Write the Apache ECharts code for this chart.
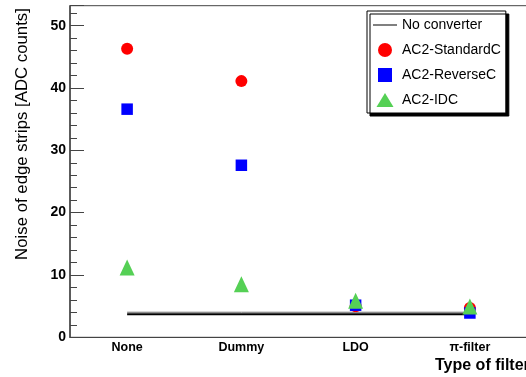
<!DOCTYPE html>
<html>
<head>
<meta charset="utf-8">
<script src="https://cdn.jsdelivr.net/npm/echarts@6/dist/echarts.min.js"></script>
<style>
html,body{margin:0;padding:0;background:#fff;}
#c{width:526px;height:377px;}
</style>
</head>
<body>
<div id="c"></div>
<script>
const categories = ['None', 'Dummy', 'LDO', '\u03c0-filter'];
const standardC = [46.3, 41.1, 5.0, 4.7];
const reverseC = [36.6, 27.6, 5.15, 3.9];
const idc = [11.2, 8.5, 5.85, 4.95];
const noConverter = [3.7, 3.7, 3.7, 3.7];
const noConverterUpper = [4.02, 4.02, 4.02, 4.02];
const yMin = 0, yMax = 53.2;

const FONT = 'Liberation Sans, Arial, sans-serif';
const chart = echarts.init(document.getElementById('c'), null, {renderer: 'canvas'});
const axisCol = '#444';

chart.setOption({
  animation: false,
  backgroundColor: '#fff',
  textStyle: {fontFamily: FONT},
  grid: {left: 70, top: 5.7, width: 457, bottom: 39.7, containLabel: false, outerBoundsMode: 'none',
    show: true, borderColor: axisCol, borderWidth: 1, backgroundColor: 'transparent'},
  legend: {
    orient: 'vertical',
    left: 367, top: 11,
    padding: [7, 5, 6, 6],
    itemGap: 11,
    itemWidth: 24, itemHeight: 14,
    backgroundColor: '#fff',
    borderColor: '#000', borderWidth: 1,
    shadowColor: '#000', shadowBlur: 0, shadowOffsetX: 3, shadowOffsetY: 3,
    textStyle: {fontSize: 14, color: '#000', fontFamily: FONT},
    data: [
      {name: 'No converter', icon: 'path://M0,0L24,0L24,1L0,1Z'},
      {name: 'AC2-StandardC', icon: 'circle'},
      {name: 'AC2-ReverseC', icon: 'path://M0,0L13,0L13,13L0,13Z'},
      {name: 'AC2-IDC', icon: 'path://M8.5,0L17,14L0,14Z'}
    ]
  },
  xAxis: {
    type: 'category',
    data: categories,
    boundaryGap: true,
    axisLine: {lineStyle: {color: axisCol, width: 1}},
    axisTick: {inside: true, alignWithLabel: true, length: 10, lineStyle: {color: axisCol}},
    axisLabel: {color: '#000', fontWeight: 'bold', fontSize: 12.5, margin: 4, fontFamily: FONT},
    splitLine: {show: false},
    name: 'Type of filter',
    nameLocation: 'end',
    nameGap: -92,
    nameTextStyle: {color: '#000', fontWeight: 'bold', fontSize: 16, align: 'left', verticalAlign: 'top', padding: [20, 0, 0, 0], fontFamily: FONT}
  },
  yAxis: [{
    type: 'value',
    min: yMin, max: yMax, interval: 10,
    axisLine: {show: true, lineStyle: {color: axisCol, width: 1.5}},
    axisTick: {show: true, inside: true, length: 14, lineStyle: {color: axisCol}},
    axisLabel: {color: '#000', fontWeight: 'bold', fontSize: 14, margin: 4, fontFamily: FONT,
      formatter: v => (Math.abs(v % 10) < 1e-9 ? String(v) : '')},
    splitLine: {show: false},
    name: 'Noise of edge strips [ADC counts]',
    nameLocation: 'middle',
    nameGap: 39,
    nameRotate: 90,
    nameTextStyle: {color: '#000', fontSize: 16.8, padding: [0, 0, 0, 75], fontFamily: FONT}
  }, {
    type: 'value',
    position: 'left',
    min: yMin, max: yMax, interval: 2,
    axisLine: {show: false},
    axisTick: {show: true, inside: true, length: 7, lineStyle: {color: axisCol}},
    axisLabel: {show: false},
    splitLine: {show: false}
  }],
  series: [
    {name: 'No converter', type: 'line', data: noConverter, symbol: 'none', lineStyle: {color: '#000', width: 2}, itemStyle: {color: '#000'}, z: 2},
    {name: 'No converter (upper)', type: 'line', data: noConverterUpper, symbol: 'none', lineStyle: {color: '#666', width: 1}, itemStyle: {color: '#666'}, z: 2},
    {name: 'AC2-StandardC', type: 'scatter', data: standardC, symbol: 'circle', symbolSize: 12, itemStyle: {color: '#ff0000', opacity: 1}, z: 3},
    {name: 'AC2-ReverseC', type: 'scatter', data: reverseC, symbol: 'rect', symbolSize: 11.5, itemStyle: {color: '#0000ff', opacity: 1}, z: 4},
    {name: 'AC2-IDC', type: 'scatter', data: idc, symbol: 'triangle', symbolSize: [15, 16], itemStyle: {color: '#55d055', opacity: 1}, z: 5}
  ]
});
</script>
</body>
</html>
